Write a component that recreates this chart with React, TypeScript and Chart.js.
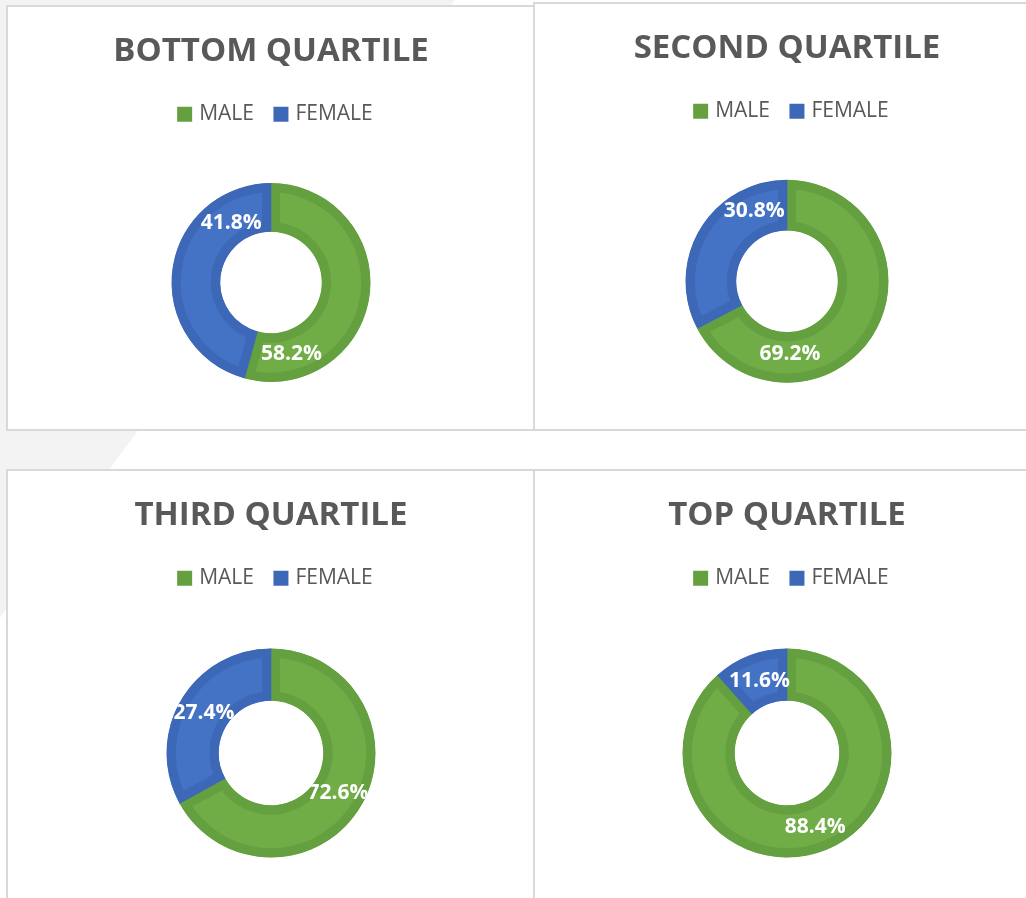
import React, { useEffect, useRef } from "react";
import { Chart, registerables } from "chart.js";

Chart.register(...registerables);

// ---- data ----
const CATEGORIES = ["MALE", "FEMALE"];
const QUARTILES = ["BOTTOM QUARTILE", "SECOND QUARTILE", "THIRD QUARTILE", "TOP QUARTILE"];
// ring shares as drawn in the picture
const MALE_SHARE = [54.3, 67.3, 67.0, 88.4];
const FEMALE_SHARE = [45.7, 32.7, 33.0, 11.6];
// data labels as printed on the rings
const MALE_LABELS = ["58.2%", "69.2%", "72.6%", "88.4%"];
const FEMALE_LABELS = ["41.8%", "30.8%", "27.4%", "11.6%"];

// ---- styles ----
const FILL_COLORS = ["#70AD47", "#4472C4"];
const BORDER_COLORS = ["#64A03F", "#3D68B8"];
const TEXT_GRAY = "#595959";
const FONT = '"Open Sans", "Noto Sans", sans-serif';

const PANELS = [
  { left: 6, top: 5, w: 525, h: 422, padL: 1, padB: 16.7, radius: 99.5, cutout: "51%", along: [0.839, 0.793], across: [0.49, 0.42] },
  { left: 533, top: 2, w: 504, h: 425, padL: 0, padB: 13.1, radius: 101.5, cutout: "50%", along: [0.733, 0.787], across: [0.44, 0.53] },
  { left: 6, top: 469, w: 525, h: 440, padL: 1, padB: 3.7, radius: 104.5, cutout: "50%", along: [0.5, 0.5], across: [0.49, 0.49] },
  { left: 533, top: 469, w: 504, h: 440, padL: 0, padB: 3.7, radius: 104.5, cutout: "50%", along: [0.5, 0.5], across: [0.51, 0.48] },
];
const CANVAS_H = 440;
const LEGEND_SHIFT = 5.7;

const ringLabels = {
  id: "ringLabels",
  afterDatasetsDraw(chart: any, _args: any, opts: any) {
    const meta = chart.getDatasetMeta(0);
    const ctx = chart.ctx;
    meta.data.forEach((arc: any, i: number) => {
      const p = arc.getProps(["x", "y", "startAngle", "endAngle", "innerRadius", "outerRadius"], true);
      const a = p.startAngle + (p.endAngle - p.startAngle) * opts.along[i];
      const r = p.innerRadius + (p.outerRadius - p.innerRadius) * opts.across[i];
      ctx.save();
      ctx.beginPath();
      ctx.arc(p.x, p.y, p.outerRadius, 0, Math.PI * 2);
      ctx.arc(p.x, p.y, p.innerRadius, 0, Math.PI * 2, true);
      ctx.clip();
      ctx.font = `bold 21px ${FONT}`;
      ctx.fillStyle = "#ffffff";
      ctx.textAlign = "center";
      ctx.textBaseline = "middle";
      ctx.fillText(opts.texts[i], p.x + r * Math.cos(a), p.y + r * Math.sin(a));
      ctx.restore();
    });
  },
};

const legendShift = {
  id: "legendShift",
  afterLayout(chart: any, _args: any, opts: any) {
    if (chart.legend) {
      chart.legend.left += opts.dx;
      chart.legend.right += opts.dx;
    }
  },
};

function Panel({ idx }: { idx: number }) {
  const ref = useRef<HTMLCanvasElement | null>(null);
  const cfg = PANELS[idx];
  useEffect(() => {
    if (!ref.current) return;
    const chart = new Chart(ref.current, {
      type: "doughnut",
      data: {
        labels: CATEGORIES,
        datasets: [
          {
            data: [MALE_SHARE[idx], FEMALE_SHARE[idx]],
            backgroundColor: FILL_COLORS,
            borderColor: BORDER_COLORS,
            borderWidth: 9,
            borderAlign: "inner",
            hoverOffset: 0,
          },
        ],
      },
      options: {
        animation: false,
        responsive: false,
        devicePixelRatio: 1,
        events: [],
        radius: cfg.radius,
        cutout: cfg.cutout,
        layout: { padding: { left: cfg.padL, right: 0, top: 0, bottom: cfg.padB } },
        plugins: {
          title: {
            display: true,
            text: QUARTILES[idx],
            color: TEXT_GRAY,
            font: { family: FONT, size: 33, weight: "bold" },
            padding: { top: 25, bottom: 9.1 },
          },
          legend: {
            display: true,
            position: "top",
            labels: {
              color: TEXT_GRAY,
              font: { family: FONT, size: 21 },
              boxWidth: 8,
              boxHeight: 15,
              usePointStyle: true,
              pointStyle: "rect",
              padding: 23,
              generateLabels: (ch: any) =>
                ch.data.labels.map((l: string, i: number) => ({
                  text: l,
                  fillStyle: BORDER_COLORS[i],
                  strokeStyle: BORDER_COLORS[i],
                  lineWidth: 0,
                  pointStyle: "rect",
                  fontColor: TEXT_GRAY,
                  hidden: false,
                  index: i,
                })),
            },
          },
          tooltip: { enabled: false },
          ringLabels: {
            along: cfg.along,
            across: cfg.across,
            texts: [MALE_LABELS[idx], FEMALE_LABELS[idx]],
          },
          legendShift: { dx: LEGEND_SHIFT },
        } as any,
      },
      plugins: [ringLabels, legendShift],
    } as any);
    return () => chart.destroy();
  }, []);
  return (
    <div
      style={{
        position: "absolute",
        left: cfg.left,
        top: cfg.top,
        width: cfg.w,
        height: cfg.h,
        border: "2px solid #d9d9d9",
        background: "#ffffff",
        overflow: "hidden",
      }}
    >
      <canvas ref={ref} width={cfg.w} height={CANVAS_H} style={{ display: "block" }} />
    </div>
  );
}

export default function App() {
  return (
    <div
      style={{
        position: "fixed",
        left: 0,
        top: 0,
        width: 1026,
        height: 898,
        overflow: "hidden",
        background: "#ffffff",
      }}
    >
      <div
        style={{
          position: "absolute",
          left: 0,
          top: 0,
          width: 1026,
          height: 898,
          background: "#f3f3f3",
          clipPath: "polygon(0px 0px, 455px 0px, 0px 618px)",
        }}
      />
      {PANELS.map((_, i) => (
        <Panel key={i} idx={i} />
      ))}
    </div>
  );
}
